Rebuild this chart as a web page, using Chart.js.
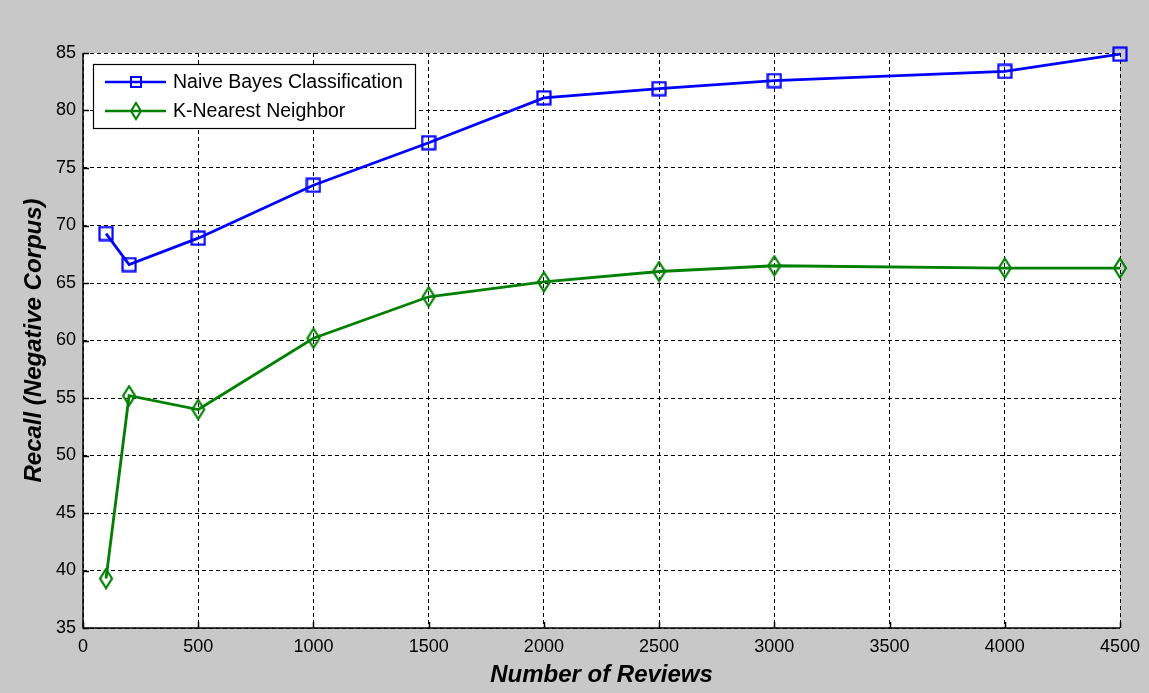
<!DOCTYPE html>
<html><head><meta charset="utf-8">
<script src="https://cdn.jsdelivr.net/npm/chart.js@4"></script>
<style>html,body{margin:0;padding:0;background:#c8c8c8;}#wrap{width:1149px;height:693px;}</style>
</head><body><div id="wrap"><canvas id="c" width="1149" height="693"></canvas></div>
<script>
const reviews = [100, 200, 500, 1000, 1500, 2000, 2500, 3000, 4000, 4500];
const naiveBayes = [69.3, 66.6, 68.9, 73.5, 77.2, 81.1, 81.9, 82.6, 83.4, 84.9];
const knn = [39.3, 55.2, 54.0, 60.2, 63.8, 65.1, 66.0, 66.5, 66.3, 66.3];
const xTicks = [0, 500, 1000, 1500, 2000, 2500, 3000, 3500, 4000, 4500];
const yTicks = [35, 40, 45, 50, 55, 60, 65, 70, 75, 80, 85];
const seriesNames = ['Naive Bayes Classification', 'K-Nearest Neighbor'];

const FONT = '"Liberation Sans", Arial, sans-serif';

function makeMarker(kind, color) {
  const w = 16, h = kind === 'square' ? 16 : 22;
  const c = document.createElement('canvas');
  c.width = w; c.height = h;
  const g = c.getContext('2d');
  g.strokeStyle = color; g.lineWidth = 2.2;
  if (kind === 'square') {
    g.strokeRect(1.5, 1.5, 13, 13);
  } else {
    g.beginPath();
    g.moveTo(8, 1.5); g.lineTo(14, 11); g.lineTo(8, 20.5); g.lineTo(2, 11); g.closePath();
    g.stroke();
  }
  return c;
}
const sqMarker = makeMarker('square', '#0000ff');
const diaMarker = makeMarker('diamond', '#008000');

const bgPlugin = {
  id: 'bg',
  beforeDraw(chart) {
    const {ctx, chartArea: a} = chart;
    ctx.save();
    ctx.fillStyle = '#c8c8c8';
    ctx.fillRect(0, 0, chart.width, chart.height);
    ctx.fillStyle = '#ffffff';
    ctx.fillRect(a.left, a.top, a.right - a.left, a.bottom - a.top);
    ctx.restore();
  },
  afterDatasetsDraw(chart) {
    const {ctx, chartArea: a, scales} = chart;
    ctx.save();
    ctx.strokeStyle = '#000'; ctx.lineWidth = 1.5; ctx.setLineDash([]);
    ctx.beginPath();
    ctx.moveTo(a.left, a.top); ctx.lineTo(a.left, a.bottom); ctx.lineTo(a.right, a.bottom);
    ctx.stroke();
    ctx.beginPath();
    yTicks.forEach(v => { const y = Math.round(scales.y.getPixelForValue(v)) + 0.5; ctx.moveTo(a.left, y); ctx.lineTo(a.left + 6, y); });
    xTicks.forEach(v => { const x = Math.round(scales.x.getPixelForValue(v)) + 0.5; ctx.moveTo(x, a.bottom); ctx.lineTo(x, a.bottom - 6); });
    ctx.stroke();
    // legend
    const lx = 93, ly = 64, lw = 322, lh = 64;
    ctx.fillStyle = '#fff'; ctx.fillRect(lx, ly, lw, lh);
    ctx.strokeStyle = '#000'; ctx.lineWidth = 1.2;
    ctx.strokeRect(lx + 0.5, ly + 0.5, lw, lh);
    chart.data.datasets.forEach((d, i) => {
      const y = ly + 18 + i * 29;
      ctx.strokeStyle = d.borderColor; ctx.lineWidth = 2.5;
      ctx.beginPath(); ctx.moveTo(105, y); ctx.lineTo(166, y); ctx.stroke();
      ctx.lineWidth = 2;
      if (i === 0) {
        ctx.strokeRect(131, y - 5, 10, 10);
      } else {
        ctx.beginPath(); ctx.moveTo(136, y - 8); ctx.lineTo(141, y); ctx.lineTo(136, y + 8); ctx.lineTo(131, y); ctx.closePath(); ctx.stroke();
      }
      ctx.fillStyle = '#000'; ctx.font = '19.5px ' + FONT; ctx.textBaseline = 'middle'; ctx.textAlign = 'left';
      ctx.fillText(d.label, 173, y + 1);
    });
    ctx.restore();
  }
};

new Chart(document.getElementById('c'), {
  type: 'line',
  data: {
    datasets: [
      { label: seriesNames[0], data: reviews.map((x, i) => ({x, y: naiveBayes[i]})), borderColor: '#0000ff', backgroundColor: 'rgba(0,0,0,0)', borderWidth: 2.8, pointStyle: sqMarker, pointRadius: 8, tension: 0, clip: false },
      { label: seriesNames[1], data: reviews.map((x, i) => ({x, y: knn[i]})), borderColor: '#008000', backgroundColor: 'rgba(0,0,0,0)', borderWidth: 2.8, pointStyle: diaMarker, pointRadius: 8, tension: 0, clip: false }
    ]
  },
  options: {
    responsive: false, animation: false, devicePixelRatio: 1,
    layout: { padding: { left: 0, top: 53, right: 29, bottom: 0 } },
    plugins: { legend: { display: false }, tooltip: { enabled: false } },
    scales: {
      x: {
        type: 'linear', min: 0, max: 4500,
        afterBuildTicks(s) { s.ticks = xTicks.map(v => ({value: v})); },
        afterFit(s) { s.height = 65; },
        grid: { color: '#000', lineWidth: 1, drawTicks: false },
        border: { display: false, dash: [4, 3] },
        ticks: { color: '#000', font: { family: FONT, size: 18 }, padding: 8, maxRotation: 0, autoSkip: false, callback: v => String(v) },
        title: { display: true, text: 'Number of Reviews', color: '#000', font: { family: FONT, size: 24, weight: 'bold', style: 'italic' }, padding: { top: 2, bottom: 3 } }
      },
      y: {
        type: 'linear', min: 35, max: 85,
        afterBuildTicks(s) { s.ticks = yTicks.map(v => ({value: v})); },
        afterFit(s) { s.width = 83; },
        grid: { color: '#000', lineWidth: 1, drawTicks: false },
        border: { display: false, dash: [4, 3] },
        ticks: { color: '#000', font: { family: FONT, size: 18 }, padding: 7, callback: v => String(v) },
        title: { display: true, text: 'Recall (Negative Corpus)', color: '#000', font: { family: FONT, size: 24, weight: 'bold', style: 'italic' }, padding: { top: 20, bottom: 0 } }
      }
    }
  },
  plugins: [bgPlugin]
});
</script></body></html>
